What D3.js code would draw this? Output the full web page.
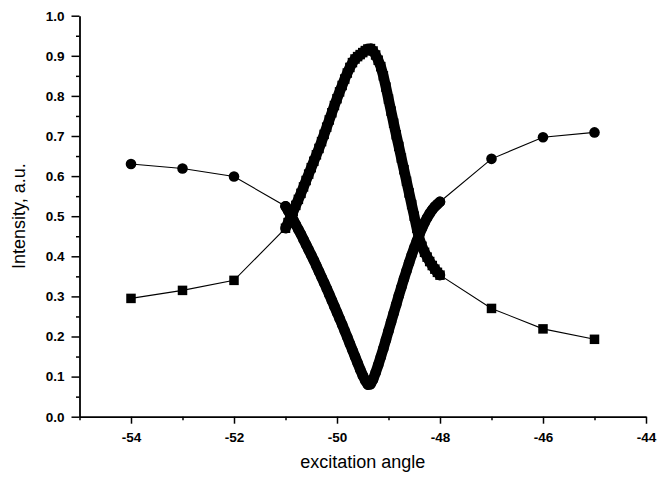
<!DOCTYPE html>
<html><head><meta charset="utf-8">
<script src="https://cdn.jsdelivr.net/npm/d3@7"></script>
<style>body{margin:0;background:#fff}svg{display:block}</style>
</head><body>
<svg id="chart" width="657" height="481"></svg>
<script>
// ---- data ----
const sparseLeftX = [-54, -53, -52];
const sparseRightX = [-47, -46, -45];
const denseX = [-51.00,-50.95,-50.90,-50.85,-50.80,-50.75,-50.70,-50.65,-50.60,-50.55,
  -50.50,-50.45,-50.40,-50.35,-50.30,-50.25,-50.20,-50.15,-50.10,-50.05,
  -50.00,-49.95,-49.90,-49.85,-49.80,-49.75,-49.70,-49.65,-49.60,-49.55,
  -49.50,-49.45,-49.40,-49.35,-49.30,-49.25,-49.20,-49.15,-49.10,-49.05,
  -49.00,-48.95,-48.90,-48.85,-48.80,-48.75,-48.70,-48.65,-48.60,-48.55,
  -48.50,-48.45,-48.40,-48.35,-48.30,-48.25,-48.20,-48.15,-48.10,-48.05,-48.00];

const circleLeftY = [0.630, 0.619, 0.599];
const circleDenseY = [0.525,0.514,0.503,0.491,0.479,0.467,0.455,0.442,0.429,0.416,
  0.403,0.390,0.376,0.362,0.348,0.334,0.320,0.305,0.290,0.275,
  0.260,0.245,0.230,0.214,0.198,0.182,0.166,0.150,0.134,0.118,
  0.103,0.090,0.080,0.081,0.093,0.110,0.129,0.149,0.170,0.192,
  0.214,0.236,0.258,0.280,0.302,0.323,0.344,0.364,0.384,0.403,
  0.421,0.438,0.455,0.470,0.484,0.496,0.507,0.516,0.524,0.530,0.536];
const circleRightY = [0.643, 0.697, 0.709];

const squareLeftY = [0.295, 0.315, 0.340];
const squareDenseY = [0.470,0.484,0.498,0.512,0.527,0.542,0.557,0.573,0.589,0.605,
  0.621,0.637,0.653,0.669,0.686,0.704,0.722,0.740,0.758,0.776,
  0.793,0.810,0.826,0.842,0.857,0.871,0.883,0.892,0.898,0.903,
  0.908,0.913,0.917,0.918,0.912,0.902,0.889,0.873,0.850,0.822,
  0.792,0.762,0.732,0.703,0.674,0.645,0.616,0.587,0.558,0.529,
  0.500,0.470,0.443,0.425,0.410,0.398,0.387,0.377,0.368,0.360,0.353];
const squareRightY = [0.270, 0.219, 0.193];

const xMajorTicks = [-54, -52, -50, -48, -46, -44];
const xMinorTicks = [-55, -53, -51, -49, -47, -45];
const yMajorTicks = [0.0, 0.1, 0.2, 0.3, 0.4, 0.5, 0.6, 0.7, 0.8, 0.9, 1.0];
const yMinorTicks = [0.05, 0.15, 0.25, 0.35, 0.45, 0.55, 0.65, 0.75, 0.85, 0.95];
const xTitle = "excitation angle";
const yTitle = "Intensity, a.u.";

// ---- build series ----
const allX = [...sparseLeftX, ...denseX, ...sparseRightX];
const circleAllY = [...circleLeftY, ...circleDenseY, ...circleRightY];
const squareAllY = [...squareLeftY, ...squareDenseY, ...squareRightY];
const circles = allX.map((x, i) => ({x, y: circleAllY[i]}));
const squares = allX.map((x, i) => ({x, y: squareAllY[i]}));
const circlesDense = denseX.map((x, i) => ({x, y: circleDenseY[i]}));
const squaresDense = denseX.map((x, i) => ({x, y: squareDenseY[i]}));

// ---- scales ----
const svg = d3.select("#chart");
const x = d3.scaleLinear().domain([-55, -44]).range([79.5, 646]);
const y = d3.scaleLinear().domain([0, 1]).range([416.7, 15.7]);

const fmtX = d => String(d).replace("\u2212", "-");
const fmtY = d => d.toFixed(1);
const font = "'Liberation Sans', Arial, sans-serif";

// axes
const gx = svg.append("g").attr("transform", `translate(0,${y(0)})`)
  .call(d3.axisBottom(x).tickValues(xMajorTicks).tickSize(7).tickPadding(4).tickSizeOuter(0).tickFormat(fmtX));
svg.append("g").attr("transform", `translate(0,${y(0)})`)
  .call(d3.axisBottom(x).tickValues(xMinorTicks).tickSize(3.5).tickSizeOuter(0).tickFormat(""))
  .call(g => g.select(".domain").remove());
const gy = svg.append("g").attr("transform", `translate(${x(-55)},0)`)
  .call(d3.axisLeft(y).tickValues(yMajorTicks).tickSize(8).tickPadding(7).tickSizeOuter(0).tickFormat(fmtY));
svg.append("g").attr("transform", `translate(${x(-55)},0)`)
  .call(d3.axisLeft(y).tickValues(yMinorTicks).tickSize(3.5).tickSizeOuter(0).tickFormat(""))
  .call(g => g.select(".domain").remove());

svg.selectAll(".domain").attr("stroke", "#000").attr("stroke-width", 1.8);
svg.selectAll(".tick line").attr("stroke", "#000").attr("stroke-width", 1.5);
svg.selectAll(".tick text").attr("font-family", font)
  .attr("font-size", 13.5).attr("font-weight", "bold").attr("fill", "#000");
gx.selectAll(".tick text").attr("dy", "1.05em");

// titles
svg.append("text").attr("x", (x(-55) + x(-44)) / 2).attr("y", 468)
  .attr("text-anchor", "middle").attr("font-family", font)
  .attr("font-size", 18).attr("fill", "#000").text(xTitle);
svg.append("text").attr("transform", `translate(25,${(y(0) + y(1)) / 2}) rotate(-90)`)
  .attr("text-anchor", "middle").attr("font-family", font)
  .attr("font-size", 18).attr("fill", "#000").text(yTitle);

// lines
const line = d3.line().x(d => x(d.x)).y(d => y(d.y));
[circles, squares].forEach(data =>
  svg.append("path").datum(data).attr("d", line).attr("fill", "none")
    .attr("stroke", "#000").attr("stroke-width", 1.1));
// dense stretch: overlapping markers form a solid band
[circlesDense, squaresDense].forEach(data =>
  svg.append("path").datum(data).attr("d", line).attr("fill", "none")
    .attr("stroke", "#000").attr("stroke-width", 10.5)
    .attr("stroke-linejoin", "round").attr("stroke-linecap", "round"));

// markers
svg.append("g").selectAll("circle").data(circles).join("circle")
  .attr("cx", d => x(d.x)).attr("cy", d => y(d.y)).attr("r", 5.3).attr("fill", "#000");
const s = 9.5;
svg.append("g").selectAll("rect").data(squares).join("rect")
  .attr("x", d => x(d.x) - s / 2).attr("y", d => y(d.y) - s / 2)
  .attr("width", s).attr("height", s).attr("fill", "#000");
</script>
</body></html>
